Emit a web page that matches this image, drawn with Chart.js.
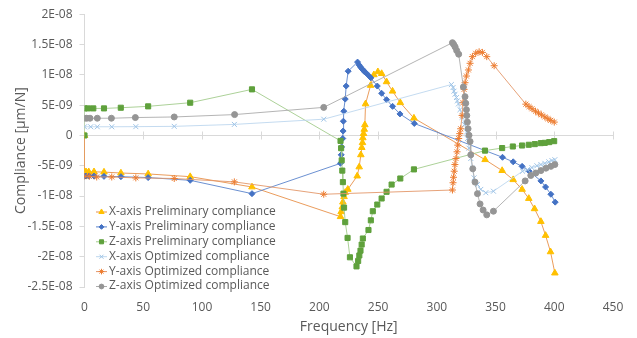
<!DOCTYPE html>
<html>
<head>
<meta charset="utf-8">
<script src="https://cdn.jsdelivr.net/npm/chart.js@4/dist/chart.umd.min.js"></script>
<style>
  html, body { margin: 0; padding: 0; background: #ffffff; }
  #wrap { width: 637px; height: 338px; position: relative; }
</style>
</head>
<body>
<div id="wrap"><canvas id="complianceChart" width="637" height="338"></canvas></div>
<script>
// valores de complacencia em unidades de 1E-09 m/N (multiplicados por NANO abaixo)
var NANO = 1e-9;

var seriesNames = [
    'X-axis Preliminary compliance',
    'Y-axis Preliminary compliance',
    'Z-axis Preliminary compliance',
    'X-axis Optimized compliance',
    'Y-axis Optimized compliance',
    'Z-axis Optimized compliance'
];

var yTicks = [2e-8, 1.5e-8, 1e-8, 5e-9, 0, -5e-9, -1e-8, -1.5e-8, -2e-8, -2.5e-8];
var xTicks = [0, 50, 100, 150, 200, 250, 300, 350, 400, 450];

var xPrelimFreq = [0, 0, 1.3, 3.6, 8.1, 16.6, 31, 54.2, 90, 142.6, 218, 218.5, 219.5, 220, 221, 222, 224.2, 232.2, 233.9, 235.3, 236.1, 236.7, 237, 237.6, 238.2, 238.7, 239.3, 243.6, 246.4, 249.8, 253, 257.2, 262.3, 268.9, 280.5, 341.1, 355.6, 365, 372.6, 378.3, 383.2, 388.6, 392.6, 396.8, 400.5];
var xPrelimVal = [0, -6.0, -6.0, -6.0, -6.0, -6.05, -6.2, -6.35, -6.8, -8.5, -13.4, -12.6, -11.8, -11.0, -10.1, -9.4, -8.9, -6.7, -5.2, -3.2, -2.0, -1.2, -0.4, 0.3, 1.0, 1.75, 5.2, 8.25, 10.0, 10.5, 10.2, 8.85, 7.3, 5.4, 2.85, -4.0, -5.8, -7.3, -8.9, -10.4, -12.1, -14.2, -16.5, -19.2, -22.7];

var yPrelimFreq = [0, 1.3, 4, 8.1, 16.6, 31, 54.2, 90, 142.6, 218, 218.6, 218.9, 219.9, 220.2, 220.4, 220.8, 222, 222.8, 224.5, 232.5, 233.9, 235, 236.1, 237.3, 238.4, 239.8, 242.1, 243.8, 249.3, 253, 257.2, 262.3, 268.6, 280.8, 355.9, 365, 372.6, 378.6, 388.6, 392.6, 397.1, 400.8];
var yPrelimVal = [-6.7, -6.7, -6.7, -6.7, -6.75, -6.8, -6.95, -7.4, -9.6, -4.6, -3.2, -1.9, -0.5, 0.73, 2.35, 4.0, 6.0, 8.15, 10.6, 12.1, 11.6, 11.3, 11.0, 10.8, 10.5, 10.3, 9.85, 9.5, 8.15, 6.95, 5.9, 4.8, 3.55, 1.98, -3.6, -4.35, -5.1, -5.9, -7.5, -8.5, -9.7, -11.0];

var zPrelimFreq = [0, 0, 3, 7.5, 16.6, 30.9, 54.2, 90, 142.6, 218, 218.5, 219, 219.5, 220, 220.5, 221, 222, 224, 226, 231.6, 233, 234, 235, 236, 237, 241.8, 243.8, 245.5, 249.3, 253, 257.2, 261.5, 268.9, 280.5, 341, 355.6, 364.7, 372.6, 378.3, 383.4, 388.5, 391.9, 395.7, 399.9];
var zPrelimVal = [0, 4.46, 4.46, 4.46, 4.46, 4.57, 4.8, 5.4, 7.6, -0.9, -2.1, -4.1, -5.8, -7.7, -9.6, -11.9, -14.3, -16.9, -20.1, -21.6, -20.7, -19.8, -19.0, -18.0, -17.0, -15.6, -14.0, -12.5, -11.4, -10.4, -9.3, -8.1, -7.1, -5.6, -2.5, -2.08, -1.82, -1.66, -1.54, -1.43, -1.27, -1.22, -1.1, -0.94];

var xOptFreq = [0, 5.3, 10.9, 23.2, 43.7, 76.4, 127.6, 203.7, 312.4, 313.8, 314.6, 315.5, 316.7, 317.5, 318.4, 319.7, 321.5, 323.5, 325.4, 326, 327.4, 328.9, 330.3, 331.7, 334.6, 337.4, 341.7, 348.2, 373, 377.2, 380.9, 385.2, 388.6, 392, 395.4, 398, 400.5];
var xOptVal = [1.43, 1.43, 1.43, 1.43, 1.45, 1.5, 1.82, 2.68, 8.4, 7.9, 7.3, 6.8, 6.25, 5.7, 5.2, 4.25, 3.0, 1.8, 0.57, -0.52, -2.1, -3.8, -5.4, -7.0, -8.1, -8.9, -9.45, -9.2, -5.9, -5.65, -5.3, -5.0, -4.8, -4.6, -4.35, -4.14, -4.0];

var yOptFreq = [0, 4.1, 10.4, 23.2, 43.7, 76.4, 127.6, 203.7, 313.3, 313.8, 314.2, 314.8, 315.4, 316.3, 317.2, 317.8, 318.6, 319.5, 320.3, 321.5, 322.3, 323.2, 324, 325.2, 326.9, 328.3, 330.3, 333.1, 336, 338.8, 342.5, 348.8, 375.8, 378.5, 381, 384, 386.5, 389, 392, 394.5, 397, 400];
var yOptVal = [-6.74, -6.74, -6.85, -6.85, -7.0, -7.1, -7.66, -9.7, -9.0, -7.8, -6.9, -5.9, -4.8, -3.8, -2.7, -1.6, -0.5, 0.3, 1.1, 3.3, 5.4, 7.6, 8.7, 9.8, 10.8, 11.9, 13.0, 13.55, 13.8, 13.7, 13.0, 11.5, 5.16, 4.75, 4.4, 4.0, 3.7, 3.4, 3.05, 2.75, 2.5, 2.2];

var zOptFreq = [0, 1.9, 4.7, 10.9, 22.9, 43.3, 76.4, 127.8, 203.7, 313.3, 314.4, 315.6, 316.9, 318.6, 322.6, 324, 324.6, 325.2, 325.5, 326, 326.6, 327.4, 328.3, 328.9, 330.6, 332.5, 334.6, 336.8, 339.4, 342.5, 348.2, 375.2, 380, 384.3, 388.6, 392.9, 397.1, 400.5];
var zOptVal = [2.84, 2.84, 2.84, 2.84, 2.84, 2.95, 3.05, 3.44, 4.63, 15.3, 15.0, 14.6, 14.0, 13.4, 8.0, 6.4, 5.3, 4.25, 3.28, 2.2, 1.1, 0.03, -1.0, -3.2, -5.5, -7.7, -9.6, -11.3, -12.3, -13.1, -12.5, -7.5, -6.6, -6.2, -5.8, -5.4, -5.1, -4.8];

function toPoints(freqs, vals) {
    var pts = [];
    for (var i = 0; i < freqs.length; i++) {
        pts.push({ x: freqs[i], y: vals[i] * NANO });
    }
    return pts;
}

// formato do Excel: 2E-08, 1.5E-08, 0 ...
function excelSci(v) {
    if (Math.abs(v) < 1e-15) return '0';
    var exp = Math.floor(Math.log10(Math.abs(v)) + 1e-9);
    var m = Math.round(v / Math.pow(10, exp) * 100) / 100;
    var e = Math.abs(exp);
    return m + 'E' + (exp < 0 ? '-' : '+') + (e < 10 ? '0' + e : e);
}

var textColor = '#595959';
var axisColor = '#d9d9d9';
var fontFamily = '"Open Sans", "Liberation Sans", sans-serif';

var datasets = [
    { label: seriesNames[0], data: toPoints(xPrelimFreq, xPrelimVal), borderColor: '#e8914a', pointStyle: 'triangle', pointRadius: 3.8, pointBackgroundColor: '#ffc000', pointBorderColor: '#ffc000', order: 6 },
    { label: seriesNames[1], data: toPoints(yPrelimFreq, yPrelimVal), borderColor: '#5a83cc', pointStyle: 'rectRot', pointRadius: 3, pointBackgroundColor: '#4472c4', pointBorderColor: '#4472c4', order: 5 },
    { label: seriesNames[2], data: toPoints(zPrelimFreq, zPrelimVal), borderColor: '#a3cc8c', pointStyle: 'rect', pointRadius: 3.6, pointBackgroundColor: '#5fa13c', pointBorderColor: '#5fa13c', order: 4 },
    { label: seriesNames[3], data: toPoints(xOptFreq, xOptVal), borderColor: '#bdd7ee', pointStyle: 'crossRot', pointRadius: 3.5, pointBackgroundColor: '#9dc3e6', pointBorderColor: '#9dc3e6', order: 3 },
    { label: seriesNames[4], data: toPoints(yOptFreq, yOptVal), borderColor: '#e3976a', pointStyle: 'star', pointRadius: 3.5, pointBackgroundColor: '#ed7d31', pointBorderColor: '#ed7d31', order: 2 },
    { label: seriesNames[5], data: toPoints(zOptFreq, zOptVal), borderColor: '#ababab', pointStyle: 'circle', pointRadius: 3, pointBackgroundColor: '#959595', pointBorderColor: '#959595', order: 1 }
];
for (var d = 0; d < datasets.length; d++) {
    datasets[d].borderWidth = 0.9;
    datasets[d].pointBorderWidth = 1;
    datasets[d].fill = false;
    datasets[d].tension = 0;
}

// eixo horizontal em y = 0 com marcas
var zeroAxisPlugin = {
    id: 'zeroAxis',
    beforeDatasetsDraw: function(chart) {
        var ctx = chart.ctx;
        var xs = chart.scales.x, ys = chart.scales.y;
        var y0 = Math.round(ys.getPixelForValue(0)) + 0.5;
        ctx.save();
        ctx.strokeStyle = axisColor;
        ctx.lineWidth = 1;
        ctx.beginPath();
        ctx.moveTo(chart.chartArea.left, y0);
        ctx.lineTo(chart.chartArea.right, y0);
        for (var i = 1; i < xTicks.length; i++) {
            var px = Math.round(xs.getPixelForValue(xTicks[i])) + 0.5;
            ctx.moveTo(px, y0 - 4);
            ctx.lineTo(px, y0 + 4);
        }
        ctx.stroke();
        ctx.restore();
    }
};

// legenda estilo Excel (linha + marcador) dentro da area do grafico
var excelLegendPlugin = {
    id: 'excelLegend',
    afterDraw: function(chart) {
        var ctx = chart.ctx;
        var x0 = 96, y0 = 211.5, step = 14.9;
        ctx.save();
        ctx.font = '12px ' + fontFamily;
        ctx.textBaseline = 'middle';
        ctx.textAlign = 'left';
        for (var i = 0; i < chart.data.datasets.length; i++) {
            var ds = chart.data.datasets[i];
            var y = y0 + i * step;
            ctx.strokeStyle = ds.borderColor;
            ctx.lineWidth = 1;
            ctx.beginPath();
            ctx.moveTo(x0, y + 0.5);
            ctx.lineTo(x0 + 11, y + 0.5);
            ctx.stroke();
            ctx.fillStyle = ds.pointBackgroundColor;
            ctx.strokeStyle = ds.pointBorderColor;
            Chart.helpers.drawPoint(ctx, { pointStyle: ds.pointStyle, radius: ds.pointRadius * 0.8, rotation: 0, borderWidth: 1 }, x0 + 5.5, y + 0.5);
            ctx.fillStyle = textColor;
            ctx.fillText(ds.label, x0 + 13, y);
        }
        ctx.restore();
    }
};

var ctxChart = document.getElementById('complianceChart');
var complianceChart = new Chart(ctxChart, {
    type: 'line',
    data: { datasets: datasets },
    options: {
        responsive: false,
        animation: false,
        events: [],
        layout: { padding: { top: 10, right: 24, left: 0, bottom: 0 } },
        plugins: {
            legend: { display: false },
            tooltip: { enabled: false }
        },
        scales: {
            x: {
                type: 'linear',
                min: 0,
                max: 450,
                afterBuildTicks: function(scale) {
                    scale.ticks = xTicks.map(function(v) { return { value: v }; });
                },
                afterFit: function(scale) { scale.height = 51; },
                grid: { display: false },
                border: { display: false },
                ticks: { color: textColor, font: { family: fontFamily, size: 12 }, padding: 5, maxRotation: 0 },
                title: { display: true, text: 'Frequency [Hz]', color: textColor, font: { family: fontFamily, size: 14 }, padding: { top: 0, bottom: 3 } }
            },
            y: {
                type: 'linear',
                min: -2.5e-8,
                max: 2e-8,
                afterBuildTicks: function(scale) {
                    scale.ticks = yTicks.map(function(v) { return { value: v }; });
                },
                afterFit: function(scale) { scale.width = 84.5; },
                grid: { drawOnChartArea: false, drawTicks: true, tickLength: 5, color: axisColor },
                border: { display: true, color: axisColor },
                ticks: {
                    color: textColor,
                    font: { family: fontFamily, size: 12 },
                    padding: 7,
                    callback: function(v) { return excelSci(v); }
                },
                title: { display: true, text: 'Compliance [\u03bcm/N]', color: textColor, font: { family: fontFamily, size: 14 }, padding: { top: 13, bottom: 0 } }
            }
        }
    },
    plugins: [zeroAxisPlugin, excelLegendPlugin]
});
</script>
</body>
</html>
